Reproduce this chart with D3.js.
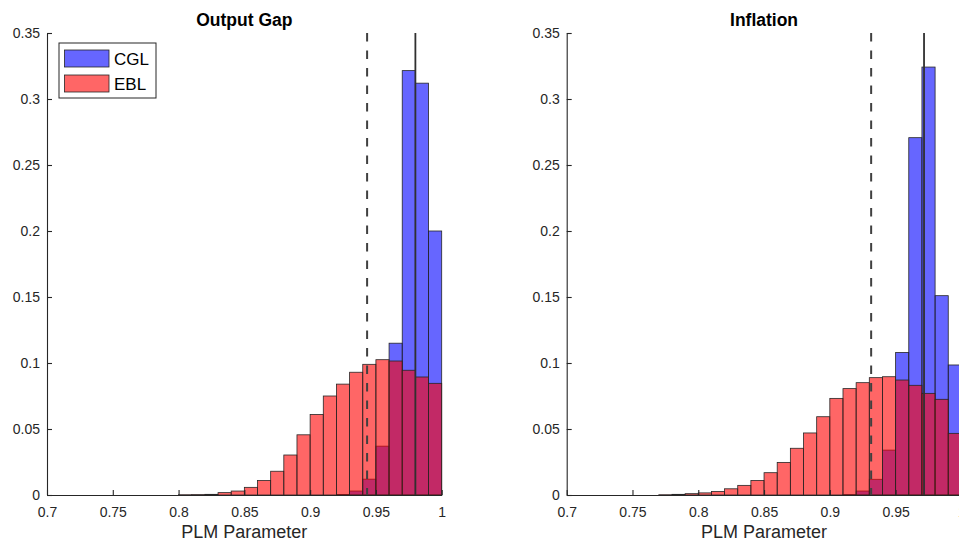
<!DOCTYPE html>
<html>
<head>
<meta charset="utf-8">
<script src="https://cdn.jsdelivr.net/npm/d3@7"></script>
<style>
  html, body { margin: 0; padding: 0; background: #fff; }
  svg { display: block; font-family: "Liberation Sans", Arial, Helvetica, sans-serif; }
</style>
</head>
<body>
<svg id="chart" width="959" height="542"></svg>
<script>
// Histogram bins: left edges, width 0.01
const binWidth = 0.01;

// Output Gap panel
const gapEblBins = [0.80, 0.81, 0.82, 0.83, 0.84, 0.85, 0.86, 0.87, 0.88, 0.89, 0.90, 0.91, 0.92, 0.93, 0.94, 0.95, 0.96, 0.97, 0.98, 0.99];
const gapEblValues = [0.0002, 0.0003, 0.0005, 0.0018, 0.003, 0.0058, 0.011, 0.018, 0.0303, 0.0456, 0.061, 0.075, 0.084, 0.093, 0.099, 0.1025, 0.1015, 0.0945, 0.0894, 0.0846];
const gapCglBins = [0.92, 0.93, 0.94, 0.95, 0.96, 0.97, 0.98, 0.99];
const gapCglValues = [0.0004, 0.003, 0.012, 0.037, 0.115, 0.3215, 0.312, 0.200];
const gapDashed = 0.9433;
const gapSolid = 0.980;

// Inflation panel
const infEblBins = [0.77, 0.78, 0.79, 0.80, 0.81, 0.82, 0.83, 0.84, 0.85, 0.86, 0.87, 0.88, 0.89, 0.90, 0.91, 0.92, 0.93, 0.94, 0.95, 0.96, 0.97, 0.98, 0.99];
const infEblValues = [0.0002, 0.0005, 0.001, 0.0016, 0.0027, 0.0047, 0.0073, 0.011, 0.0169, 0.0247, 0.0354, 0.047, 0.0593, 0.0732, 0.0806, 0.0851, 0.0889, 0.0896, 0.0871, 0.0831, 0.077, 0.0725, 0.0467];
const infCglBins = [0.91, 0.92, 0.93, 0.94, 0.95, 0.96, 0.97, 0.98, 0.99];
const infCglValues = [0.0003, 0.003, 0.0119, 0.034, 0.108, 0.2707, 0.3242, 0.151, 0.0985];
const infDashed = 0.9314;
const infSolid = 0.9716;

// Axis ticks
const xTickValues = [0.7, 0.75, 0.8, 0.85, 0.9, 0.95, 1.0];
const xTickLabels = ["0.7", "0.75", "0.8", "0.85", "0.9", "0.95", "1"];
const yTickValues = [0, 0.05, 0.1, 0.15, 0.2, 0.25, 0.3, 0.35];
const yTickLabels = ["0", "0.05", "0.1", "0.15", "0.2", "0.25", "0.3", "0.35"];

const seriesNames = ["CGL", "EBL"];
const titles = ["Output Gap", "Inflation"];
const xLabel = "PLM Parameter";

const ink = "#262626";
const blue = "#0000ff";
const red = "#ff0000";
const faceAlpha = 0.6;

const svg = d3.select("#chart");

const panels = [
  { left: 47, right: 441.7, title: titles[0], ebl: [gapEblBins, gapEblValues], cgl: [gapCglBins, gapCglValues], dashed: gapDashed, solid: gapSolid, legend: true },
  { left: 566.7, right: 961.4, title: titles[1], ebl: [infEblBins, infEblValues], cgl: [infCglBins, infCglValues], dashed: infDashed, solid: infSolid, legend: false }
];

const plotTop = 33, plotBottom = 495;

panels.forEach(p => {
  const x = d3.scaleLinear().domain([0.7, 1.0]).range([p.left, p.right]);
  const y = d3.scaleLinear().domain([0, 0.35]).range([plotBottom, plotTop]);
  const g = svg.append("g");

  const drawBars = (bins, values, color) => {
    g.append("g")
      .selectAll("rect")
      .data(bins.map((b, i) => ({ b, v: values[i] })))
      .join("rect")
      .attr("x", d => x(d.b))
      .attr("width", d => x(d.b + binWidth) - x(d.b))
      .attr("y", d => y(d.v))
      .attr("height", d => y(0) - y(d.v))
      .attr("fill", color)
      .attr("fill-opacity", faceAlpha)
      .attr("stroke", ink)
      .attr("stroke-width", 0.8);
  };

  drawBars(p.cgl[0], p.cgl[1], blue);
  drawBars(p.ebl[0], p.ebl[1], red);

  // Reference lines
  g.append("line")
    .attr("x1", x(p.dashed)).attr("x2", x(p.dashed))
    .attr("y1", y(0.35)).attr("y2", y(0))
    .attr("stroke", "#404040").attr("stroke-width", 2)
    .attr("stroke-dasharray", "8.5,9");
  g.append("line")
    .attr("x1", x(p.solid)).attr("x2", x(p.solid))
    .attr("y1", y(0.35)).attr("y2", y(0))
    .attr("stroke", "#303030").attr("stroke-width", 1.8);

  // Axes
  const xAxis = d3.axisBottom(x)
    .tickValues(xTickValues)
    .tickFormat((d, i) => xTickLabels[i])
    .tickSizeInner(-5).tickSizeOuter(0).tickPadding(12);
  const yAxis = d3.axisLeft(y)
    .tickValues(yTickValues)
    .tickFormat((d, i) => yTickLabels[i])
    .tickSizeInner(-5).tickSizeOuter(0).tickPadding(7);

  const gx = g.append("g").attr("transform", `translate(0,${plotBottom})`).call(xAxis);
  const gy = g.append("g").attr("transform", `translate(${p.left},0)`).call(yAxis);
  [gx, gy].forEach(a => {
    a.selectAll("path.domain").attr("stroke", ink).attr("stroke-width", 1.1);
    a.selectAll(".tick line").attr("stroke", ink).attr("stroke-width", 1.1);
    a.selectAll(".tick text").attr("fill", ink).style("font-size", "14px")
      .style("font-family", "'Liberation Sans', Arial, sans-serif");
  });

  // Title and x label
  g.append("text")
    .attr("x", (p.left + p.right) / 2).attr("y", 26)
    .attr("text-anchor", "middle")
    .style("font-size", "17.5px").style("font-weight", "bold")
    .attr("fill", "#000")
    .text(p.title);
  g.append("text")
    .attr("x", (p.left + p.right) / 2).attr("y", 538)
    .attr("text-anchor", "middle")
    .style("font-size", "18px")
    .attr("fill", ink)
    .text(xLabel);

  if (p.legend) {
    const lg = svg.append("g");
    lg.append("rect")
      .attr("x", 59).attr("y", 43).attr("width", 97).attr("height", 55)
      .attr("fill", "#fff").attr("stroke", ink).attr("stroke-width", 1);
    const colors = [blue, red];
    seriesNames.forEach((name, i) => {
      lg.append("rect")
        .attr("x", 64.5).attr("y", 50 + i * 25).attr("width", 44.5).attr("height", 17)
        .attr("fill", colors[i]).attr("fill-opacity", faceAlpha)
        .attr("stroke", ink).attr("stroke-width", 0.8);
      lg.append("text")
        .attr("x", 114).attr("y", 65 + i * 25)
        .style("font-size", "17px").attr("fill", "#000")
        .text(name);
    });
  }
});
</script>
</body>
</html>
